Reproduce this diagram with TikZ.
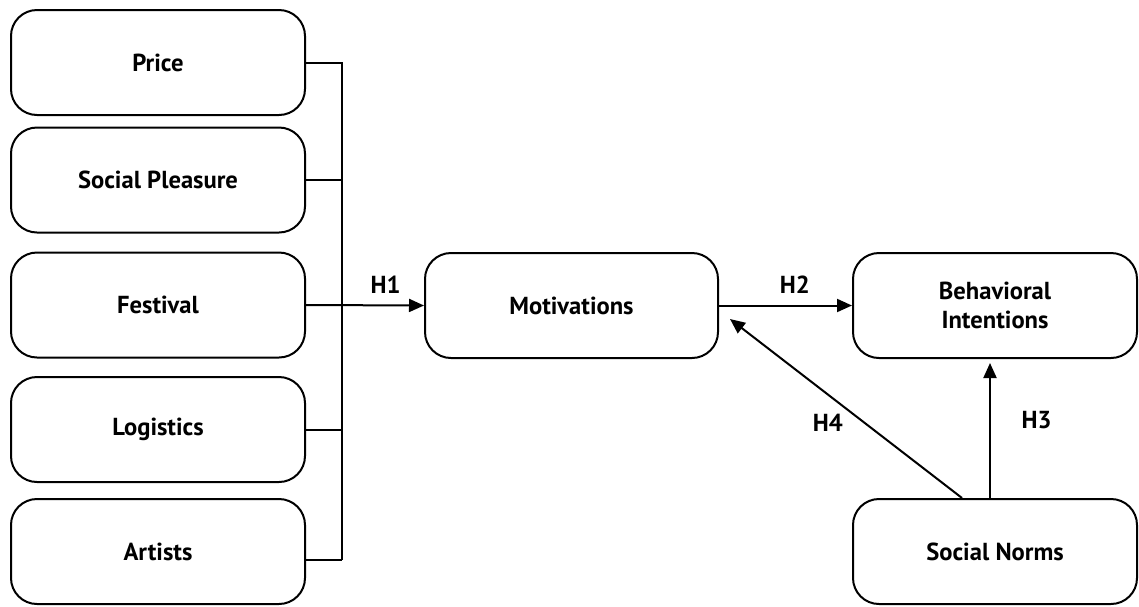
\documentclass[tikz,border=0pt]{standalone}
\usepackage{fontspec}
\setmainfont{PT Sans}
\usetikzlibrary{arrows.meta}
\tikzset{
  every node/.style={font=\bfseries\fontsize{12.3}{14.5}\selectfont},
  factor/.style={draw, line width=1pt, rounded corners=13pt, minimum width=147pt,
    minimum height=52.5pt, align=center},
  link/.style={line width=1pt},
}

\begin{document}
\begin{tikzpicture}[x=0.5pt, y=-0.5pt, >={Triangle[length=7.5pt, width=6.5pt]}]
  % Bounding box fixe (taille de la figure)
  \path[use as bounding box] (0,0) rectangle (1139,606);

  % Antecedents (left column).
  \node[factor] (price) at (158,62.5) {Price};
  \node[factor] (pleasure) at (158,180) {Social Pleasure};
  \node[factor] (festival) at (158,305) {Festival};
  \node[factor] (logistics) at (158,429.5) {Logistics};
  \node[factor] (artists) at (158,551.5) {Artists};

  % Mediator, outcome and moderator.
  \node[factor, minimum width=146.5pt] (motiv) at (571.5,305.5) {Motivations};
  \node[factor, minimum width=142pt] (behav) at (995,305.5) {Behavioral\\Intentions};
  \node[factor, minimum width=142pt] (norms) at (995,551.5) {Social Norms};

  % Collecting bus of the antecedents.
  \coordinate (bustop) at (342,62);
  \coordinate (busbot) at (342,560);
  \draw[link] (bustop) -- (busbot);
  \draw[link] (price.east) -- (price.east -| bustop);
  \draw[link] (pleasure.east) -- (pleasure.east -| bustop);
  \draw[link] (logistics.east) -- (logistics.east -| bustop);
  \draw[link] ([yshift=-4.25pt]artists.east) -- (busbot);

  % Hypotheses.
  \draw[link, ->] (festival.east) -- (motiv.west)
    node[pos=0.675, above=2pt] {H1};
  \draw[link, ->] (motiv.east) -- (behav.west)
    node[pos=0.57, above=2pt] {H2};
  \draw[link, ->, shorten >=2pt] ([xshift=-2.5pt]norms.north) -- ([xshift=-2.5pt]behav.south)
    node[pos=0.56, right=12pt] {H3};

  \coordinate (h4end) at (730,319);
  \draw[link, ->] ([xshift=-16.5pt]norms.north) -- (h4end)
    node[pos=0.42, left=7pt] {H4};
\end{tikzpicture}
\end{document}
